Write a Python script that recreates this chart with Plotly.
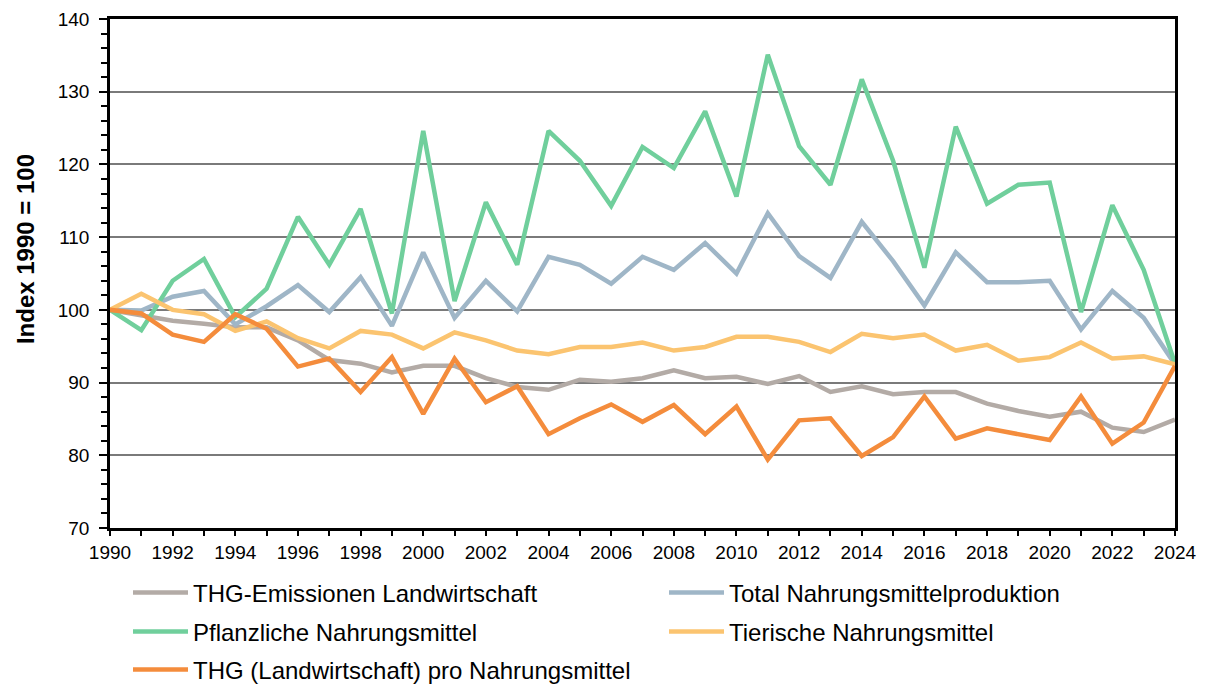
import plotly.graph_objects as go

years = list(range(1990, 2025))

thg_emissionen = [100, 99.2, 98.5, 98.1, 97.6, 97.6, 95.8, 93.1, 92.6, 91.4,
                  92.3, 92.3, 90.6, 89.4, 89.0, 90.4, 90.1, 90.6, 91.7, 90.6,
                  90.8, 89.8, 90.9, 88.7, 89.5, 88.4, 88.7, 88.7, 87.1, 86.1,
                  85.3, 86.0, 83.8, 83.2, 84.9]
total_nahrung = [100, 99.9, 101.8, 102.6, 98.0, 100.5, 103.4, 99.7, 104.5, 97.8,
                 107.9, 98.9, 104.0, 99.8, 107.3, 106.2, 103.6, 107.3, 105.5, 109.2,
                 105.0, 113.3, 107.4, 104.4, 112.1, 106.7, 100.6, 107.9, 103.8, 103.8,
                 104.0, 97.3, 102.6, 98.9, 92.5]
pflanzlich = [100, 97.2, 104.0, 107.0, 99.0, 102.9, 112.8, 106.2, 113.9, 99.5,
              124.6, 101.2, 114.8, 106.2, 124.6, 120.5, 114.3, 122.4, 119.5, 127.3,
              115.6, 135.1, 122.5, 117.2, 131.7, 120.5, 105.8, 125.2, 114.6, 117.2,
              117.5, 99.7, 114.4, 105.5, 92.6]
tierisch = [100, 102.2, 100.0, 99.4, 97.1, 98.4, 96.1, 94.7, 97.1, 96.6,
            94.7, 96.9, 95.8, 94.4, 93.9, 94.9, 94.9, 95.5, 94.4, 94.9,
            96.3, 96.3, 95.6, 94.2, 96.7, 96.1, 96.6, 94.4, 95.2, 93.0,
            93.5, 95.5, 93.3, 93.6, 92.5]
thg_pro = [100, 99.5, 96.6, 95.6, 99.4, 97.4, 92.2, 93.3, 88.7, 93.5,
           85.7, 93.3, 87.3, 89.5, 82.9, 85.1, 87.0, 84.6, 86.9, 82.9,
           86.7, 79.4, 84.8, 85.1, 79.9, 82.5, 88.1, 82.3, 83.7, 82.9,
           82.1, 88.1, 81.6, 84.5, 92.3]

series_names = ["THG-Emissionen Landwirtschaft", "Total Nahrungsmittelproduktion",
                "Pflanzliche Nahrungsmittel", "Tierische Nahrungsmittel",
                "THG (Landwirtschaft) pro Nahrungsmittel"]
series_values = [thg_emissionen, total_nahrung, pflanzlich, tierisch, thg_pro]
series_colors = ["#b3aba6", "#9fb6c7", "#70cf9c", "#fbc470", "#f48c3c"]
y_title = "Index 1990 = 100"

# legend grid: (column x in paper, row y in paper)
legend_ids = ["legend", "legend2", "legend3", "legend4", "legend5"]
legend_pos = [(0.0169, -0.1277), (0.5202, -0.1277),
              (0.0169, -0.2043), (0.5202, -0.2043),
              (0.0169, -0.279)]

fig = go.Figure()
for name, vals, col, lg in zip(series_names, series_values, series_colors, legend_ids):
    fig.add_trace(go.Scatter(x=years, y=vals, mode="lines", name=name, legend=lg,
                             line=dict(color=col, width=4.5)))

font_family = "Liberation Sans, Arial, sans-serif"

def legend_box(x, y):
    return dict(orientation="h", x=x, y=y, xanchor="left", yanchor="middle",
                font=dict(size=24, family=font_family, color="#000000"),
                itemwidth=55, bgcolor="rgba(0,0,0,0)")

legends = {lid: legend_box(x, y) for lid, (x, y) in zip(legend_ids, legend_pos)}

fig.update_layout(
    width=1198, height=676,
    margin=dict(l=102, r=31, t=11, b=156, autoexpand=False),
    paper_bgcolor="white", plot_bgcolor="white",
    font=dict(family=font_family, color="#000000", size=19),
    showlegend=True,
    **legends,
    xaxis=dict(range=[1990, 2024], tick0=1990, dtick=2, showgrid=False,
               showline=True, linecolor="black", linewidth=2.5, mirror=True,
               ticks="outside", ticklen=5, tickwidth=1.5, tickcolor="black",
               minor=dict(dtick=1, tick0=1990, ticks="outside", ticklen=5,
                          tickwidth=1.5, tickcolor="black"),
               tickfont=dict(size=19), zeroline=False, automargin=False),
    yaxis=dict(range=[70, 140], dtick=10, showgrid=True, gridcolor="#7a7a7a",
               gridwidth=1.5, showline=True, linecolor="black", linewidth=2.5,
               mirror=True, ticks="outside", ticklen=8, tickwidth=1.5,
               tickcolor="black", ticklabelstandoff=6,
               minor=dict(dtick=2, ticks="outside", ticklen=6, tickwidth=1.5,
                          tickcolor="black", showgrid=False),
               tickfont=dict(size=19), zeroline=False, automargin=False),
    annotations=[dict(text="<b>" + y_title + "</b>", xref="paper", yref="paper",
                      x=-0.0798, y=0.548, xanchor="center", yanchor="middle",
                      textangle=-90, showarrow=False,
                      font=dict(size=24, family=font_family, color="#000000"))],
)

fig.write_html("out.html")
